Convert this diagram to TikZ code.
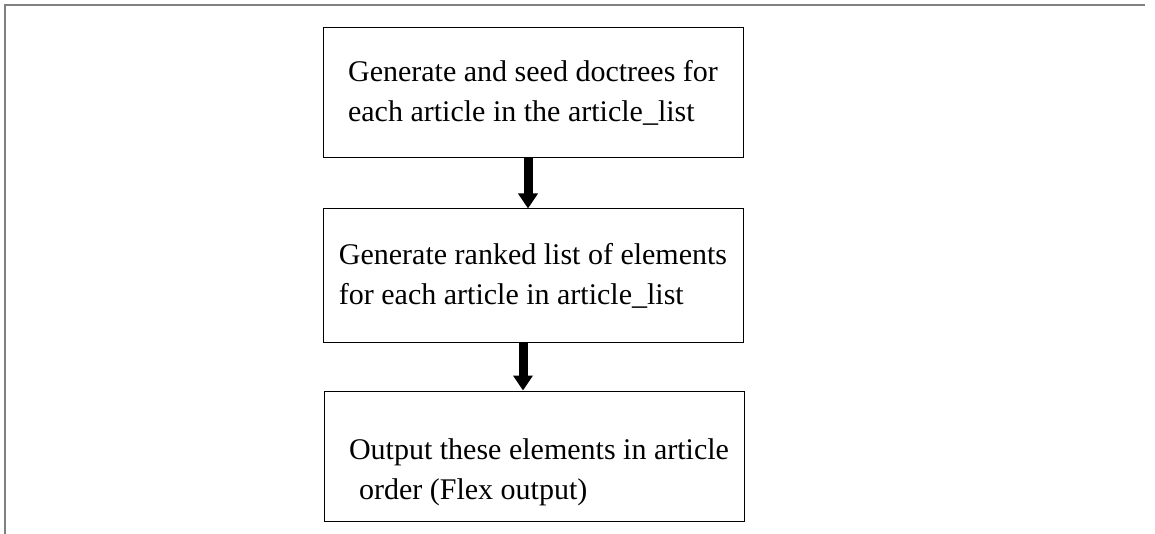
\documentclass[tikz,border=0pt]{standalone}
\usepackage{fontspec}
\setmainfont{Liberation Serif}
\usetikzlibrary{arrows.meta}

\begin{document}
\begin{tikzpicture}[x=1pt, y=-1pt, box/.style={draw, line width=1pt, minimum width=420pt, minimum height=130pt, inner xsep=15pt, align=left, font=\fontsize{30}{40}\selectfont}, flow/.style={line width=9pt, -{Triangle[width=19pt,length=15pt]}}, frame/.style={draw=gray, line width=2pt}]

    \useasboundingbox (0,0) rectangle (1155,534);
    \draw[frame] (4,5) -- (1145,5);
    \draw[frame] (5,5) -- (5,534);

    \node[box] (gen) at (533,93) {Generate and seed doctrees for\\each article in the article\_list};
    \node[box, minimum height=133pt] (rank) at (533,275.5) {Generate ranked list of elements\\for each article in article\_list};
    \node[box] (out) at (534,456) {\rule{0pt}{53pt}\hspace*{10pt}Output these elements in article\\\hspace*{20pt}order (Flex output)};

    \path
        ([xshift=-5pt]gen.south) edge[flow] ([xshift=-5pt]rank.north)
        ([xshift=-10pt]rank.south) edge[flow] ([xshift=-11pt]out.north)
        ;
\end{tikzpicture}
\end{document}
